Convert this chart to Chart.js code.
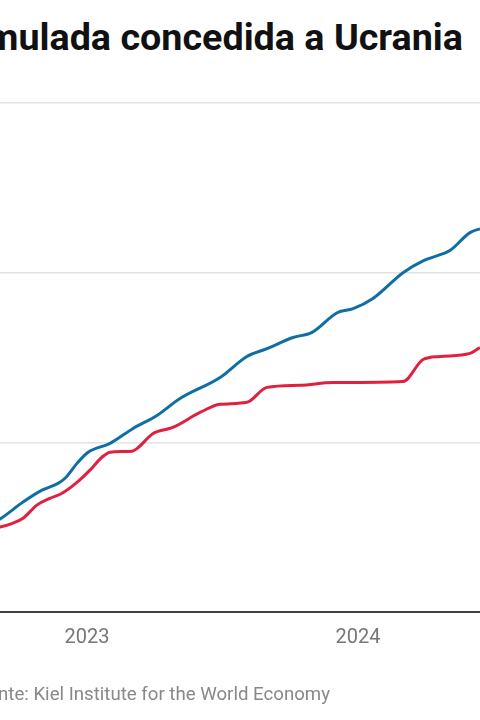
<!DOCTYPE html>
<html>
<head>
<meta charset="utf-8">
<script src="https://cdn.jsdelivr.net/npm/chart.js@4.4.1/dist/chart.umd.min.js"></script>
<style>
  html, body { margin: 0; padding: 0; background: #fff; width: 480px; height: 720px; overflow: hidden; position: relative; }
  #title { position: absolute; right: 17px; top: 15px; white-space: nowrap; font-family: Roboto, sans-serif; font-weight: 700; font-size: 37.7px; color: #111; }
  #source { position: absolute; right: 150px; top: 683px; white-space: nowrap; font-family: Roboto, sans-serif; font-size: 18.65px; color: #888; }
  #wrap { position: absolute; left: 0; top: 0; width: 480px; height: 720px; }
</style>
</head>
<body>
<div id="title">Ayuda acumulada concedida a Ucrania</div>
<div id="wrap"><canvas id="c"></canvas></div>
<div id="source">Fuente: Kiel Institute for the World Economy</div>
<script>
// x: decimal year, y: miles de millones de euros
const xEuropa = [2022.568, 2022.679, 2022.764, 2022.834, 2022.893, 2022.919, 2022.963, 2023.004, 2023.085, 2023.170, 2023.258, 2023.343, 2023.491, 2023.590, 2023.664, 2023.760, 2023.830, 2023.923, 2023.982, 2024.055, 2024.166, 2024.240, 2024.314, 2024.339, 2024.413, 2024.450, 2024.524];
const yEuropa = [22.6, 27.4, 32.4, 35.9, 37.9, 39.4, 43.8, 47.1, 49.7, 54.1, 57.9, 62.9, 69.1, 75.3, 77.6, 80.9, 82.4, 88.2, 89.4, 92.4, 100.0, 103.5, 105.6, 106.5, 111.8, 112.9, 113.8];
const xEEUU = [2022.568, 2022.679, 2022.727, 2022.764, 2022.815, 2022.863, 2022.908, 2022.963, 2023.011, 2023.055, 2023.085, 2023.166, 2023.185, 2023.244, 2023.317, 2023.417, 2023.491, 2023.590, 2023.664, 2023.786, 2023.908, 2024.166, 2024.240, 2024.303, 2024.413, 2024.450, 2024.524];
const yEEUU = [23.2, 25.0, 26.2, 27.6, 31.5, 33.5, 35.0, 38.2, 41.8, 45.6, 47.1, 47.4, 48.2, 52.6, 54.4, 58.8, 61.2, 61.8, 66.2, 66.8, 67.6, 67.9, 74.4, 75.3, 76.2, 77.9, 80.0];
const yearTicks = [2023, 2024];
const yTicks = [0, 50, 100, 150];

const toPts = (xs, ys) => xs.map((x, i) => ({ x: x, y: ys[i] }));

new Chart(document.getElementById('c'), {
  type: 'line',
  data: {
    datasets: [
      { label: 'Europa', data: toPts(xEuropa, yEuropa), borderColor: '#0f6ea3', borderWidth: 3, pointRadius: 0, cubicInterpolationMode: 'monotone', fill: false },
      { label: 'Estados Unidos', data: toPts(xEEUU, yEEUU), borderColor: '#e0203f', borderWidth: 3, pointRadius: 0, cubicInterpolationMode: 'monotone', fill: false }
    ]
  },
  options: {
    responsive: true,
    maintainAspectRatio: false,
    animation: false,
    layout: { padding: { top: 103, left: 0, right: 0, bottom: 0 } },
    plugins: { legend: { display: false }, tooltip: { enabled: false }, title: { display: false } },
    scales: {
      x: {
        type: 'linear',
        min: 2022.679,
        max: 2024.450,
        afterBuildTicks: (s) => { s.ticks = yearTicks.map(v => ({ value: v })); },
        afterFit: (s) => { s.height = 108; },
        grid: { display: false, drawTicks: false },
        border: { display: true, color: '#404040', width: 2 },
        ticks: {
          padding: 14,
          color: '#777',
          font: { family: 'Roboto', size: 20 },
          callback: (v) => String(v),
          maxRotation: 0,
          autoSkip: false
        }
      },
      y: {
        min: 0,
        max: 150,
        afterBuildTicks: (s) => { s.ticks = yTicks.map(v => ({ value: v })); },
        afterFit: (s) => { s.width = 0; },
        grid: { color: '#e2e2e2', lineWidth: 1.5, drawTicks: false },
        border: { display: false },
        ticks: { display: false }
      }
    }
  }
});
</script>
</body>
</html>
